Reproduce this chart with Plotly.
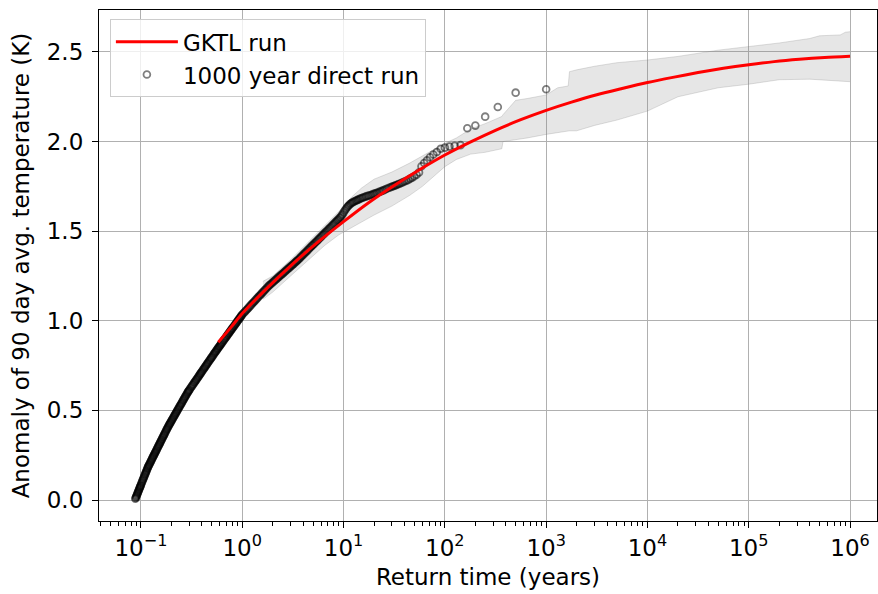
import plotly.graph_objects as go

# ---- direct 1000-year run: empirical return times (years) and anomalies (K)
direct_return_time = [
    0.0880, 0.0888, 0.0895, 0.0903, 0.0910, 0.0918, 0.0925, 0.0933, 0.0940, 0.0948,
    0.0955, 0.0963, 0.0970, 0.0978, 0.0985, 0.0993, 0.1000, 0.1010, 0.1020, 0.1030,
    0.1040, 0.1050, 0.1060, 0.1070, 0.1080, 0.1090, 0.1100, 0.1110, 0.1120, 0.1130,
    0.1140, 0.1150, 0.1160, 0.1170, 0.1180, 0.1190, 0.1200, 0.1213, 0.1225, 0.1238,
    0.1250, 0.1263, 0.1275, 0.1288, 0.1300, 0.1313, 0.1325, 0.1338, 0.1350, 0.1363,
    0.1375, 0.1388, 0.1400, 0.1415, 0.1430, 0.1445, 0.1460, 0.1475, 0.1490, 0.1505,
    0.1520, 0.1535, 0.1550, 0.1565, 0.1580, 0.1598, 0.1615, 0.1633, 0.1650, 0.1668,
    0.1685, 0.1703, 0.1720, 0.1740, 0.1760, 0.1780, 0.1800, 0.1820, 0.1840, 0.1860,
    0.1880, 0.1900, 0.1920, 0.1940, 0.1960, 0.1983, 0.2005, 0.2028, 0.2050, 0.2075,
    0.2100, 0.2125, 0.2150, 0.2175, 0.2200, 0.2225, 0.2250, 0.2278, 0.2305, 0.2333,
    0.2360, 0.2390, 0.2420, 0.2450, 0.2480, 0.2510, 0.2540, 0.2570, 0.2600, 0.2633,
    0.2665, 0.2698, 0.2730, 0.2765, 0.2800, 0.2835, 0.2870, 0.2903, 0.2935, 0.2968,
    0.300, 0.305, 0.310, 0.315, 0.320, 0.325, 0.330, 0.335, 0.340, 0.345,
    0.350, 0.355, 0.360, 0.365, 0.370, 0.375, 0.380, 0.385, 0.390, 0.395,
    0.400, 0.406, 0.412, 0.418, 0.424, 0.430, 0.436, 0.442, 0.448, 0.454,
    0.460, 0.467, 0.474, 0.481, 0.488, 0.494, 0.500, 0.508, 0.515, 0.523,
    0.530, 0.538, 0.545, 0.553, 0.560, 0.568, 0.575, 0.583, 0.590, 0.598,
    0.605, 0.613, 0.620, 0.630, 0.640, 0.650, 0.660, 0.670, 0.680, 0.690,
    0.700, 0.710, 0.720, 0.730, 0.740, 0.750, 0.760, 0.770, 0.780, 0.790,
    0.800, 0.813, 0.825, 0.838, 0.850, 0.863, 0.875, 0.888, 0.900, 0.913,
    0.925, 0.938, 0.950, 0.963, 0.975, 0.988, 1.000, 1.025, 1.05, 1.075,
    1.10, 1.125, 1.15, 1.18, 1.21, 1.24, 1.27, 1.30, 1.33, 1.365,
    1.40, 1.435, 1.47, 1.505, 1.54, 1.58, 1.62, 1.66, 1.70, 1.745,
    1.79, 1.835, 1.88, 1.93, 1.98, 2.03, 2.08, 2.135, 2.19, 2.245,
    2.30, 2.36, 2.42, 2.48, 2.54, 2.605, 2.67, 2.735, 2.80, 2.87,
    2.94, 3.015, 3.09, 3.165, 3.24, 3.32, 3.40, 3.47, 3.54, 3.63,
    3.72, 3.81, 3.90, 4.00, 4.10, 4.20, 4.30, 4.41, 4.52, 4.635,
    4.75, 4.865, 4.98, 5.105, 5.23, 5.36, 5.49, 5.625, 5.76, 5.905,
    6.05, 6.20, 6.35, 6.505, 6.66, 6.83, 7.00, 7.175, 7.35, 7.535,
    7.72, 7.91, 8.10, 8.30, 8.50, 8.70, 8.90, 9.125, 9.35, 9.575,
    9.80, 10.05, 10.3, 10.55, 10.8, 11.05, 11.3, 11.6, 11.9, 12.2,
    12.5, 12.85, 13.2, 13.55, 13.9, 14.3, 14.7, 15.15, 15.6, 16.15,
    16.7, 17.3, 17.9, 18.55, 19.2, 19.8, 20.4, 21.05, 21.7, 22.5,
    23.3, 24.15, 25.0, 26.0, 27.0, 28.2, 29.4, 30.35, 31.3, 32.3,
    33.3, 34.5, 35.7, 37.1, 38.5, 40.0, 41.7, 43.5, 45.5, 47.6,
    50.0, 52.6, 55.6, 58.8, 62.5, 66.7, 71.4, 76.9, 83.3, 90.9,
    100.0, 111.1, 125.0, 142.9, 166.7, 200.0, 250.0, 333.3, 500.0, 1000.0,
]
direct_anomaly = [
    0.007, 0.012, 0.017, 0.022, 0.027, 0.032, 0.037, 0.042, 0.047, 0.052,
    0.057, 0.062, 0.067, 0.071, 0.076, 0.080, 0.085, 0.092, 0.098, 0.104,
    0.110, 0.116, 0.121, 0.127, 0.133, 0.139, 0.144, 0.150, 0.155, 0.161,
    0.166, 0.172, 0.177, 0.182, 0.187, 0.191, 0.195, 0.200, 0.205, 0.210,
    0.215, 0.220, 0.225, 0.230, 0.235, 0.240, 0.244, 0.249, 0.253, 0.258,
    0.262, 0.267, 0.271, 0.276, 0.281, 0.287, 0.292, 0.297, 0.302, 0.307,
    0.311, 0.316, 0.321, 0.326, 0.331, 0.336, 0.341, 0.347, 0.352, 0.357,
    0.362, 0.367, 0.372, 0.378, 0.384, 0.390, 0.395, 0.400, 0.405, 0.410,
    0.415, 0.420, 0.424, 0.429, 0.433, 0.438, 0.443, 0.448, 0.452, 0.458,
    0.463, 0.468, 0.473, 0.478, 0.483, 0.488, 0.492, 0.498, 0.503, 0.508,
    0.513, 0.519, 0.524, 0.529, 0.534, 0.539, 0.544, 0.550, 0.555, 0.560,
    0.565, 0.571, 0.576, 0.581, 0.586, 0.592, 0.597, 0.602, 0.606, 0.610,
    0.614, 0.620, 0.626, 0.632, 0.637, 0.643, 0.648, 0.654, 0.659, 0.664,
    0.669, 0.674, 0.679, 0.684, 0.689, 0.694, 0.699, 0.704, 0.708, 0.713,
    0.717, 0.723, 0.728, 0.733, 0.738, 0.743, 0.748, 0.753, 0.758, 0.763,
    0.767, 0.773, 0.778, 0.783, 0.788, 0.793, 0.797, 0.802, 0.807, 0.813,
    0.818, 0.823, 0.827, 0.832, 0.837, 0.842, 0.846, 0.851, 0.855, 0.859,
    0.863, 0.868, 0.872, 0.877, 0.882, 0.888, 0.893, 0.898, 0.903, 0.908,
    0.913, 0.918, 0.923, 0.928, 0.932, 0.937, 0.941, 0.946, 0.950, 0.955,
    0.959, 0.964, 0.969, 0.974, 0.979, 0.984, 0.989, 0.994, 0.999, 1.004,
    1.008, 1.013, 1.017, 1.022, 1.026, 1.031, 1.035, 1.042, 1.048, 1.054,
    1.060, 1.066, 1.072, 1.079, 1.086, 1.093, 1.099, 1.105, 1.111, 1.118,
    1.125, 1.132, 1.138, 1.144, 1.150, 1.157, 1.163, 1.170, 1.176, 1.183,
    1.190, 1.196, 1.201, 1.207, 1.212, 1.218, 1.223, 1.229, 1.234, 1.240,
    1.245, 1.251, 1.256, 1.261, 1.266, 1.272, 1.277, 1.283, 1.288, 1.293,
    1.298, 1.304, 1.309, 1.314, 1.319, 1.325, 1.330, 1.335, 1.339, 1.345,
    1.351, 1.357, 1.363, 1.369, 1.375, 1.381, 1.387, 1.393, 1.399, 1.406,
    1.412, 1.418, 1.423, 1.429, 1.435, 1.441, 1.447, 1.453, 1.459, 1.465,
    1.471, 1.477, 1.483, 1.489, 1.495, 1.501, 1.507, 1.513, 1.519, 1.525,
    1.531, 1.537, 1.543, 1.549, 1.555, 1.561, 1.566, 1.573, 1.579, 1.587,
    1.595, 1.605, 1.615, 1.624, 1.632, 1.639, 1.645, 1.651, 1.656, 1.660,
    1.663, 1.667, 1.670, 1.673, 1.675, 1.679, 1.682, 1.685, 1.688, 1.691,
    1.694, 1.697, 1.699, 1.702, 1.705, 1.708, 1.710, 1.713, 1.716, 1.719,
    1.722, 1.726, 1.729, 1.734, 1.738, 1.742, 1.746, 1.749, 1.752, 1.755,
    1.758, 1.762, 1.765, 1.769, 1.773, 1.777, 1.781, 1.786, 1.793, 1.799,
    1.806, 1.815, 1.828, 1.862, 1.880, 1.895, 1.912, 1.928, 1.942, 1.960,
    1.966, 1.972, 1.976, 1.980, 2.074, 2.089, 2.139, 2.193, 2.273, 2.292,
]

# ---- GKTL estimate of the return-time curve
gktl_return_time = [
    0.58, 0.78, 1.0, 1.78, 3.16, 5.62, 10, 17.8, 31.6, 56.2,
    100, 178, 316, 562, 1000, 1780, 3160, 5620, 1e4, 1.78e4,
    3.16e4, 5.62e4, 1e5, 1.78e5, 3.16e5, 5.62e5, 1e6,
]
gktl_anomaly = [
    0.880, 0.966, 1.040, 1.185, 1.318, 1.440, 1.553, 1.660, 1.755, 1.843,
    1.925, 1.997, 2.063, 2.122, 2.174, 2.220, 2.261, 2.296, 2.329, 2.358,
    2.385, 2.409, 2.429, 2.446, 2.459, 2.469, 2.476,
]

# ---- GKTL uncertainty band
band_return_time = [
    1.6, 2, 3, 4.5, 6.5, 9, 12, 15, 20, 30,
    45, 60, 80, 100, 130, 180, 250, 365, 375, 500,
    650, 1000, 1300, 1650, 1700, 2000, 3000, 5000, 1e4, 2e4,
    5e4, 1e5, 2e5, 4e5, 5e5, 8e5, 9e5, 1e6,
]
band_lower = [
    1.12, 1.16, 1.25, 1.34, 1.42, 1.48, 1.52, 1.55, 1.59, 1.64,
    1.70, 1.75, 1.81, 1.86, 1.90, 1.93, 1.94, 1.96, 2.00, 2.01,
    2.02, 2.04, 2.05, 2.055, 2.06, 2.06, 2.09, 2.12, 2.17, 2.25,
    2.30, 2.32, 2.345, 2.348, 2.345, 2.338, 2.334, 2.334,
]
band_upper = [
    1.22, 1.25, 1.34, 1.44, 1.53, 1.61, 1.69, 1.74, 1.79, 1.83,
    1.88, 1.92, 1.96, 1.99, 2.02, 2.07, 2.10, 2.14, 2.15, 2.23,
    2.24, 2.26, 2.30, 2.31, 2.39, 2.40, 2.42, 2.44, 2.455, 2.475,
    2.51, 2.53, 2.55, 2.575, 2.59, 2.595, 2.61, 2.613,
]

x_tick_vals = [1e-1, 1e0, 1e1, 1e2, 1e3, 1e4, 1e5, 1e6]
x_tick_text = ["10<sup>−1</sup>", "10<sup>0</sup>", "10<sup>1</sup>", "10<sup>2</sup>",
               "10<sup>3</sup>", "10<sup>4</sup>", "10<sup>5</sup>", "10<sup>6</sup>"]
y_tick_vals = [0.0, 0.5, 1.0, 1.5, 2.0, 2.5]

minor_vals = [m * 10.0 ** k for k in range(-2, 7) for m in range(2, 10)]

FONT = "DejaVu Sans"
FS = 23

fig = go.Figure()

band_fill = "rgba(128,128,128,0.2)"
band_edge = "rgba(128,128,128,0.25)"
fig.add_trace(go.Scatter(
    x=band_return_time, y=band_lower, mode="lines",
    line=dict(color=band_edge, width=1), showlegend=False, hoverinfo="skip",
))
fig.add_trace(go.Scatter(
    x=band_return_time, y=band_upper, mode="lines", fill="tonexty",
    fillcolor=band_fill, line=dict(color=band_edge, width=1),
    showlegend=False, hoverinfo="skip",
))

fig.add_trace(go.Scatter(
    x=direct_return_time, y=direct_anomaly, mode="markers",
    name="1000 year direct run",
    marker=dict(symbol="circle-open", size=6.8,
                color="rgba(0,0,0,0.5)",
                line=dict(color="rgba(0,0,0,0.5)", width=1.8)),
))

fig.add_trace(go.Scatter(
    x=gktl_return_time, y=gktl_anomaly, mode="lines",
    name="GKTL run",
    line=dict(color="#ff0000", width=3, shape="spline", smoothing=0.8),
))

axis_common = dict(
    showline=True, linecolor="black", linewidth=1.2, mirror=True,
    showgrid=True, gridcolor="#b0b0b0", gridwidth=1.2,
    ticks="outside", ticklen=6, tickwidth=1.2, tickcolor="black",
    tickfont=dict(family=FONT, size=FS, color="black"),
    zeroline=False,
)

fig.update_layout(
    width=878, height=594,
    margin=dict(l=99, r=1, t=10, b=73),
    plot_bgcolor="white", paper_bgcolor="white",
    font=dict(family=FONT, size=FS, color="black"),
    xaxis=dict(
        type="log", range=[-1.414, 6.266],
        tickmode="array", tickvals=x_tick_vals, ticktext=x_tick_text,
        minor=dict(tickmode="array", tickvals=minor_vals, ticks="outside",
                   ticklen=3.5, tickwidth=1, tickcolor="black", showgrid=False),
        title=dict(text="Return time (years)", font=dict(family=FONT, size=FS),
                   standoff=9),
        **axis_common,
    ),
    yaxis=dict(
        range=[-0.117, 2.734],
        tickmode="array", tickvals=y_tick_vals, tickformat=".1f",
        ticklabelstandoff=4,
        title=dict(text="Anomaly of 90 day avg. temperature (K)",
                   font=dict(family=FONT, size=FS), standoff=10),
        **axis_common,
    ),
    legend=dict(
        x=0.014, y=0.982, xanchor="left", yanchor="top",
        traceorder="reversed",
        bgcolor="rgba(255,255,255,0.8)", bordercolor="#cccccc", borderwidth=1,
        font=dict(family=FONT, size=FS, color="black"),
        itemwidth=62,
    ),
    showlegend=True,
)

fig.write_html("out.html")
